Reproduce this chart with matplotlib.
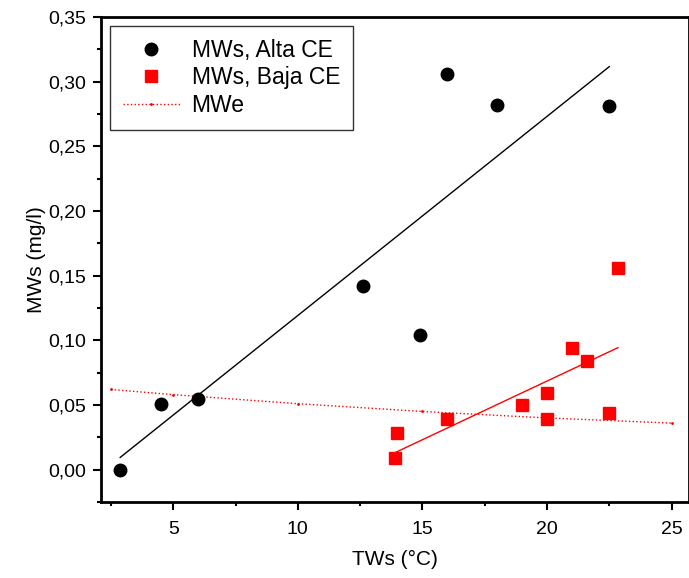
import numpy as np
import matplotlib.pyplot as plt
from matplotlib.ticker import MultipleLocator, FuncFormatter

plt.rcParams['font.family'] = ['Liberation Sans', 'DejaVu Sans']

# MWs, Alta CE
tw_alta = [2.87, 4.5, 6.0, 12.6, 14.9, 16.0, 18.0, 22.5]
mw_alta = [0.000, 0.051, 0.055, 0.142, 0.104, 0.306, 0.282, 0.281]

# MWs, Baja CE
tw_baja = [13.9, 14.0, 16.0, 19.0, 20.0, 20.0, 21.0, 21.6, 22.5, 22.85]
mw_baja = [0.009, 0.028, 0.039, 0.050, 0.059, 0.039, 0.094, 0.084, 0.044, 0.156]

# MWe
tw_e = [2.5, 5, 10, 15, 20, 25]
mw_e = [0.062, 0.058, 0.051, 0.045, 0.040, 0.036]

fig = plt.figure(figsize=(6.89, 5.78), dpi=100)
# axes box: left 101px, right 689px, top 17px, bottom 502px
ax = fig.add_axes([101/689, 1 - 502/578, 588/689, 485/578])

ax.plot(tw_alta, mw_alta, 'o', color='black', markersize=9, label='MWs, Alta CE', zorder=3)
ax.plot(tw_baja, mw_baja, 's', color='red', markersize=8, label='MWs, Baja CE', zorder=3)
ax.plot(tw_e, mw_e, ':', color='red', linewidth=1, marker='.', markersize=2, label='MWe')

# linear fits
for xs, ys, c in [(tw_alta, mw_alta, 'black'), (tw_baja, mw_baja, 'red')]:
    k, b = np.polyfit(xs, ys, 1)
    xx = np.array([min(xs), max(xs)])
    ax.plot(xx, k * xx + b, '-', color=c, linewidth=1)

ax.set_xlim(2.1, 25.7)
ax.set_ylim(-0.025, 0.35)
ax.xaxis.set_major_locator(MultipleLocator(5))
ax.xaxis.set_minor_locator(MultipleLocator(2.5))
ax.yaxis.set_major_locator(MultipleLocator(0.05))
ax.yaxis.set_minor_locator(MultipleLocator(0.025))
ax.yaxis.set_major_formatter(FuncFormatter(lambda v, p: f"{v:.2f}".replace('.', ',')))
ax.tick_params(which='major', direction='out', length=6, width=1.5, labelsize=14)
ax.tick_params(which='minor', direction='out', length=3, width=1.5)
ax.tick_params(axis='x', which='major', pad=8)
ax.tick_params(axis='y', which='major', pad=5)
for s in ax.spines.values():
    s.set_linewidth(2)

ax.set_xlabel('TWs (°C)', fontsize=15, labelpad=8)
ax.set_ylabel('MWs (mg/l)', fontsize=15, labelpad=1.5)

leg = ax.legend(loc='upper left', fontsize=16.5, frameon=True,
                fancybox=False, edgecolor='black', borderpad=0.55, labelspacing=0.2,
                handlelength=2.5, handletextpad=0.5, borderaxespad=0.4)
leg.get_frame().set_linewidth(1)

fig.savefig('out.png', dpi=100)
